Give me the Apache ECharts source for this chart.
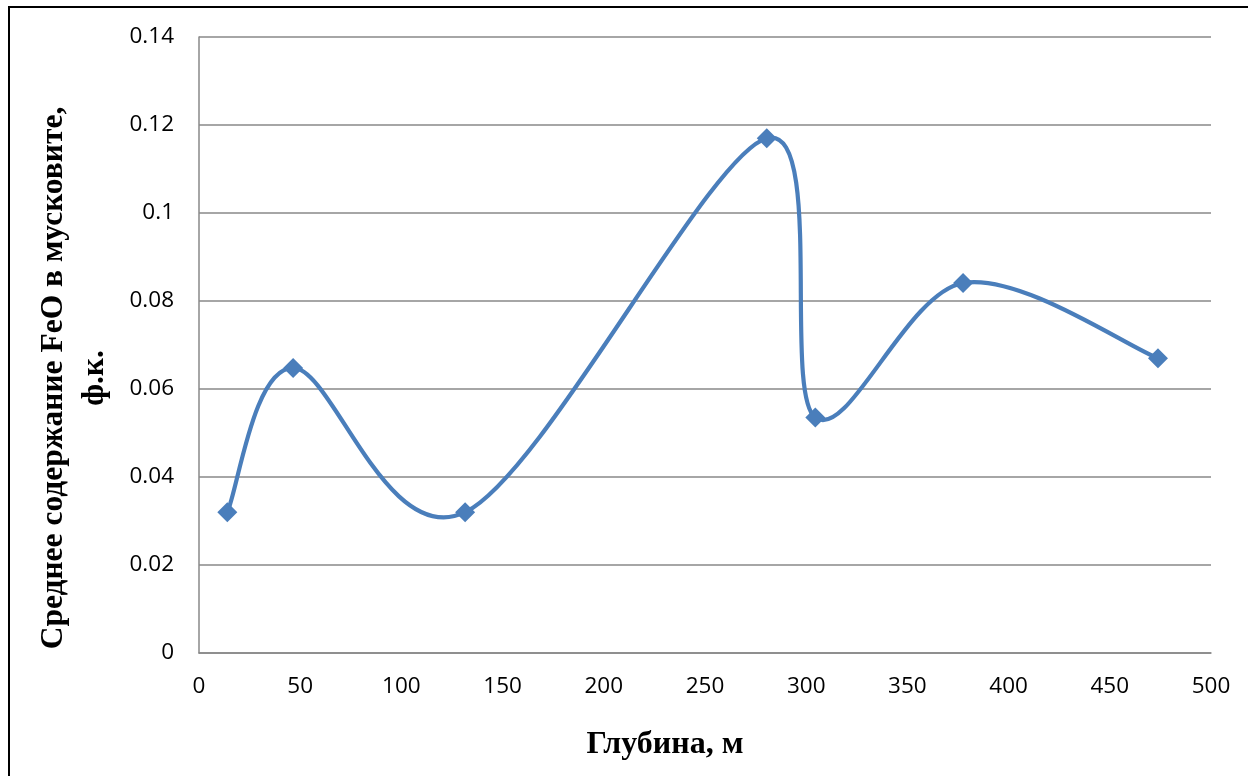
<!DOCTYPE html>
<html>
<head>
<meta charset="utf-8">
<script src="https://cdn.jsdelivr.net/npm/echarts@6/dist/echarts.min.js"></script>
<style>
  html, body { margin: 0; padding: 0; background: #fff; }
  #chart { width: 1248px; height: 776px; }
</style>
</head>
<body>
<div id="chart"></div>
<script>
// Depth (m) and mean FeO content in muscovite (f.u.)
const depth = [14, 46.5, 131.5, 280.5, 304.5, 377.5, 473.8];
const feo = [0.032, 0.0648, 0.032, 0.117, 0.0535, 0.0841, 0.067];
const yTicks = ['0', '0.02', '0.04', '0.06', '0.08', '0.1', '0.12', '0.14'];
const xTitle = 'Глубина, м';
const yTitleLines = ['Среднее содержание FeO в мусковите,', 'ф.к.'];

const LINE_COLOR = '#4a7ebb';
const points = depth.map((d, i) => [d, feo[i]]);

// Smooth spline segment i -> i+1 (cardinal, 1/6 tangents in pixel space)
function renderSegment(params, api) {
  const i = params.dataIndex;
  const n = points.length;
  if (i >= n - 1) return null;
  const P = j => api.coord(points[Math.max(0, Math.min(n - 1, j))]);
  const p0 = P(i - 1), p1 = P(i), p2 = P(i + 1), p3 = P(i + 2);
  const k = 1 / 6;
  return {
    type: 'bezierCurve',
    shape: {
      x1: p1[0], y1: p1[1],
      x2: p2[0], y2: p2[1],
      cpx1: p1[0] + (p2[0] - p0[0]) * k,
      cpy1: p1[1] + (p2[1] - p0[1]) * k,
      cpx2: p2[0] - (p3[0] - p1[0]) * k,
      cpy2: p2[1] - (p3[1] - p1[1]) * k
    },
    style: { stroke: LINE_COLOR, lineWidth: 4.2, fill: null, lineCap: 'round' }
  };
}

const chart = echarts.init(document.getElementById('chart'), null, { renderer: 'canvas' });
chart.setOption({
  animation: false,
  backgroundColor: '#fff',
  grid: { left: 199, right: 37, top: 37, bottom: 123, containLabel: false },
  xAxis: {
    type: 'value', min: 0, max: 500, interval: 50,
    axisLine: { show: true, lineStyle: { color: '#888', width: 1.5 } },
    axisTick: { show: false },
    splitLine: { show: false },
    axisLabel: { color: '#000', fontFamily: 'Open Sans', fontSize: 22.5, margin: 22 }
  },
  yAxis: {
    type: 'value', min: 0, max: 0.14, interval: 0.02,
    axisLine: { show: true, lineStyle: { color: '#888', width: 1.5 } },
    axisTick: { show: false },
    splitLine: { show: true, lineStyle: { color: '#888', width: 1.5 } },
    axisLabel: {
      color: '#000', fontFamily: 'Open Sans', fontSize: 22.5, margin: 25,
      formatter: (v) => yTicks[Math.round(v / 0.02)]
    }
  },
  graphic: [
    {
      type: 'rect', silent: true,
      shape: { x: 9, y: 7, width: 1400, height: 1000 },
      style: { fill: null, stroke: '#000', lineWidth: 2 }
    },
    {
      type: 'text', x: 665, y: 745,
      style: {
        text: xTitle, font: 'bold 32px "Liberation Serif"',
        fill: '#000', align: 'center', verticalAlign: 'middle'
      }
    },
    {
      type: 'text', x: 54, y: 378, rotation: Math.PI / 2,
      style: {
        text: yTitleLines[0], font: 'bold 31.5px "Liberation Serif"',
        fill: '#000', align: 'center', verticalAlign: 'middle'
      }
    },
    {
      type: 'text', x: 95, y: 378, rotation: Math.PI / 2,
      style: {
        text: yTitleLines[1], font: 'bold 31.5px "Liberation Serif"',
        fill: '#000', align: 'center', verticalAlign: 'middle'
      }
    }
  ],
  series: [
    {
      type: 'custom',
      renderItem: renderSegment,
      data: points,
      clip: false,
      z: 2
    },
    {
      type: 'scatter',
      data: points,
      symbol: 'diamond',
      symbolSize: 20,
      itemStyle: { color: LINE_COLOR, opacity: 1 },
      z: 3
    }
  ]
});
</script>
</body>
</html>
